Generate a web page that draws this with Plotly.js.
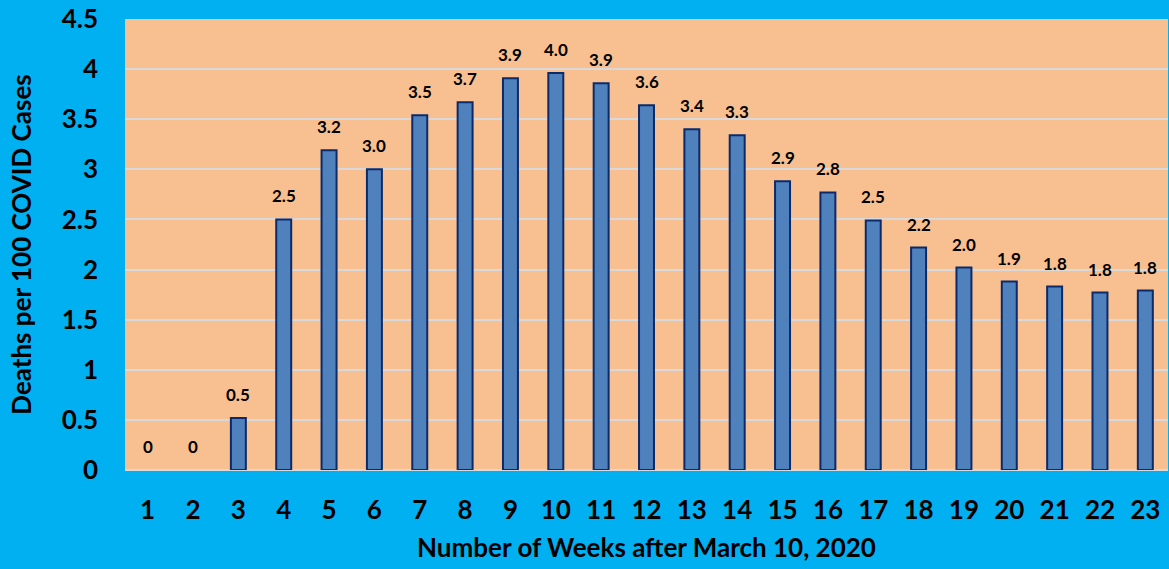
<!DOCTYPE html>
<html>
<head>
<meta charset="utf-8">
<script src="https://cdn.plot.ly/plotly-3.0.1.min.js"></script>
<style>html,body{margin:0;padding:0;background:#00B0F0;}#chart{width:1169px;height:569px;}</style>
</head>
<body>
<div id="chart"></div>
<script>
const weeks = ['1','2','3','4','5','6','7','8','9','10','11','12','13','14','15','16','17','18','19','20','21','22','23'];
const deathsPer100 = [0, 0, 0.52, 2.50, 3.19, 3.00, 3.54, 3.67, 3.91, 3.96, 3.86, 3.64, 3.40, 3.34, 2.88, 2.77, 2.49, 2.22, 2.02, 1.88, 1.83, 1.77, 1.79];
const barLabels = ['0','0','0.5','2.5','3.2','3.0','3.5','3.7','3.9','4.0','3.9','3.6','3.4','3.3','2.9','2.8','2.5','2.2','2.0','1.9','1.8','1.8','1.8'];

const FONT = 'Lato, "Open Sans", sans-serif';

const trace = {
  type: 'bar',
  x: weeks,
  y: deathsPer100,
  width: 0.33,
  marker: {color: '#4F81BD', line: {color: '#0B2A6B', width: deathsPer100.map(v => v > 0 ? 2 : 0)}},
  hoverinfo: 'x+y'
};

const annotations = weeks.map((w, i) => ({
  x: i, y: deathsPer100[i], xref: 'x', yref: 'y',
  text: barLabels[i], showarrow: false,
  yanchor: 'bottom', yshift: 11,
  font: {family: FONT, size: 17, color: '#000', weight: 'bold'}
}));

const layout = {
  width: 1169, height: 569,
  paper_bgcolor: '#00B0F0',
  plot_bgcolor: '#F8C090',
  margin: {l: 125, r: 1, t: 19, b: 99},
  showlegend: false,
  xaxis: {
    type: 'category',
    showgrid: false,
    showline: false,
    ticks: '',
    ticklabelstandoff: 22,
    tickfont: {family: FONT, size: 26, color: '#000', weight: 'bold'},
    title: {text: 'Number of Weeks after March 10, 2020', standoff: 14,
            font: {family: FONT, size: 26, color: '#000', weight: 'bold'}}
  },
  yaxis: {
    range: [0, 4.5],
    dtick: 0.5,
    showgrid: true,
    gridcolor: '#D9D9D9',
    gridwidth: 2,
    zeroline: true,
    zerolinecolor: '#D9D9D9',
    zerolinewidth: 2,
    ticks: '',
    ticklabelstandoff: 26,
    tickfont: {family: FONT, size: 26, color: '#000', weight: 'bold'},
    title: {text: 'Deaths per 100 COVID Cases', standoff: 22,
            font: {family: FONT, size: 26, color: '#000', weight: 'bold'}}
  },
  annotations: annotations
};

Plotly.newPlot('chart', [trace], layout, {displayModeBar: false, staticPlot: true});
</script>
</body>
</html>
